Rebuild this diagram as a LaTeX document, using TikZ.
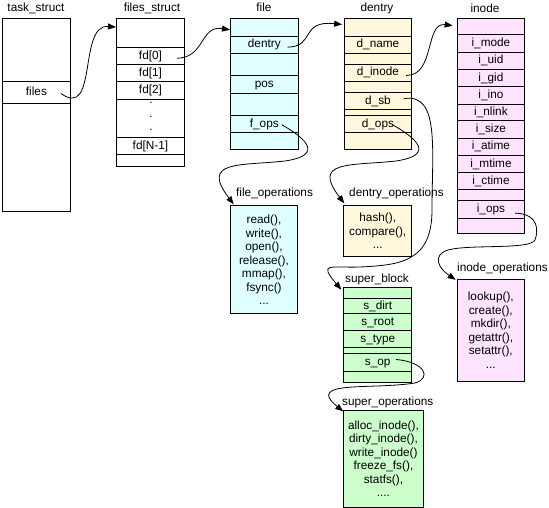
\documentclass[tikz,border=0pt]{standalone}
\usepackage{fontspec}
\setmainfont{Liberation Sans}
\usetikzlibrary{arrows.meta}
\definecolor{fcyan}{RGB}{224,255,255}
\definecolor{dyellow}{RGB}{255,248,220}
\definecolor{ipink}{RGB}{255,228,255}
\definecolor{sgreen}{RGB}{204,255,204}
\tikzset{
  rowcell/.style 2 args={draw, line width=0.9pt, inner sep=0pt, anchor=north west,
    minimum width=#1, minimum height=#2, text height=8.6pt, text depth=2.5pt},
  opsbox/.style 2 args={draw, line width=0.9pt, inner sep=0pt, anchor=north west,
    minimum width=#1, minimum height=#2, align=center},
  title/.style={anchor=base, inner sep=0pt},
  ltitle/.style={anchor=base west, inner sep=0pt},
  dotsnode/.style={anchor=north, inner sep=0pt, align=center},
  conn/.style={-{Triangle[length=8pt,width=6pt]}, line width=0.8pt},
}
\begin{document}
\begin{tikzpicture}[x=1pt,y=-1pt,font=\fontsize{11.8pt}{13.5pt}\selectfont]
\useasboundingbox (0,0) rectangle (549,508);

% ---------- titles ----------
\node[title] (tsT) at (36,12) {task\_struct};
\node[title] (fsT) at (152,12) {files\_struct};
\node[title] (fT) at (264,12) {file};
\node[title] (dT) at (377,12) {dentry};
\node[title] (iT) at (485,12.5) {inode};
\node[ltitle] (foT) at (236,196.5) {file\_operations};
\node[ltitle] (doT) at (349,196.5) {dentry\_operations};
\node[title] (sbT) at (377,282) {super\_block};
\node[ltitle] (ioT) at (457,271) {inode\_operations};
\node[ltitle] (soT) at (342,405) {super\_operations};

% ---------- task_struct ----------
\begin{scope}[every node/.append style={fill=white}]
\node[rowcell={68pt}{63pt}] (ts1) at (2,18) {};
\node[rowcell={68pt}{22pt}] (tsfiles) at (2,81) {files};
\node[rowcell={68pt}{108pt}] (ts2) at (2,103) {};
\end{scope}

% ---------- files_struct ----------
\begin{scope}[every node/.append style={fill=white}]
\node[rowcell={68pt}{29.3pt}] (fs0) at (116,18) {};
\node[rowcell={68pt}{17pt}] (fd0) at (116,47.3) {fd[0]};
\node[rowcell={68pt}{17pt}] (fd1) at (116,64.3) {fd[1]};
\node[rowcell={68pt}{17.4pt}] (fd2) at (116,81.3) {fd[2]};
\node[rowcell={68pt}{38.3pt}] (fsdots) at (116,98.7) {};
\node[rowcell={68pt}{17.3pt}] (fdN) at (116,137) {fd[N-1]};
\node[rowcell={68pt}{11.7pt}] (fs5) at (116,154.3) {};
\end{scope}
\node[dotsnode] (dots) at (151,102.2) {.\\.\\.};

% ---------- file ----------
\begin{scope}[every node/.append style={fill=fcyan}]
\node[rowcell={67.7pt}{17.7pt}] (f0) at (230,18) {};
\node[rowcell={67.7pt}{17pt}] (fdentry) at (230,35.7) {dentry};
\node[rowcell={67.7pt}{22.6pt}] (f1) at (230,52.7) {};
\node[rowcell={67.7pt}{17.4pt}] (fpos) at (230,75.3) {pos};
\node[rowcell={67.7pt}{22.6pt}] (f2) at (230,92.7) {};
\node[rowcell={67.7pt}{17pt}] (fops) at (230,115.3) {f\_ops};
\node[rowcell={67.7pt}{17pt}] (f3) at (230,132.3) {};
\node[opsbox={67.6pt}{108pt}] (fileops) at (229.7,205.3)
  {read(),\\write(),\\open(),\\release(),\\mmap(),\\fsync()\\...};
\end{scope}

% ---------- dentry ----------
\begin{scope}[every node/.append style={fill=dyellow}]
\node[rowcell={67.6pt}{17.7pt}] (d0) at (343.7,18) {};
\node[rowcell={67.6pt}{17pt}] (dname) at (343.7,35.7) {d\_name};
\node[rowcell={67.6pt}{11.3pt}] (d1) at (343.7,52.7) {};
\node[rowcell={67.6pt}{17pt}] (dinode) at (343.7,64) {d\_inode};
\node[rowcell={67.6pt}{11.3pt}] (d2) at (343.7,81) {};
\node[rowcell={67.6pt}{17pt}] (dsb) at (343.7,92.3) {d\_sb};
\node[rowcell={67.6pt}{5.7pt}] (d3) at (343.7,109.3) {};
\node[rowcell={67.6pt}{17.3pt}] (dops) at (343.7,115) {d\_ops};
\node[rowcell={67.6pt}{16.7pt}] (d4) at (343.7,132.3) {};
\node[opsbox={68pt}{50.7pt}] (dentryops) at (343.3,205.3)
  {hash(),\\compare(),\\...};
\end{scope}

% ---------- inode ----------
\begin{scope}[every node/.append style={fill=ipink}]
\node[rowcell={67.6pt}{16.3pt}] (i0) at (456.7,18) {};
\node[rowcell={67.6pt}{17.4pt}] (imode) at (456.7,34.3) {i\_mode};
\node[rowcell={67.6pt}{17.3pt}] (iuid) at (456.7,51.7) {i\_uid};
\node[rowcell={67.6pt}{17.3pt}] (igid) at (456.7,69) {i\_gid};
\node[rowcell={67.6pt}{17.4pt}] (iino) at (456.7,86.3) {i\_ino};
\node[rowcell={67.6pt}{16.6pt}] (inlink) at (456.7,103.7) {i\_nlink};
\node[rowcell={67.6pt}{17.4pt}] (isize) at (456.7,120.3) {i\_size};
\node[rowcell={67.6pt}{17.3pt}] (iatime) at (456.7,137.7) {i\_atime};
\node[rowcell={67.6pt}{17.3pt}] (imtime) at (456.7,155) {i\_mtime};
\node[rowcell={67.6pt}{16.7pt}] (ictime) at (456.7,172.3) {i\_ctime};
\node[rowcell={67.6pt}{11pt}] (i1) at (456.7,189) {};
\node[rowcell={67.6pt}{17.7pt}] (iops) at (456.7,200) {i\_ops};
\node[rowcell={67.6pt}{15.6pt}] (i2) at (456.7,217.7) {};
\node[opsbox={67.3pt}{101.4pt}] (inodeops) at (456.7,279.3)
  {lookup(),\\create(),\\mkdir(),\\getattr(),\\setattr(),\\...};
\end{scope}

% ---------- super_block ----------
\begin{scope}[every node/.append style={fill=sgreen}]
\node[rowcell={68pt}{11.6pt}] (sb0) at (343.3,286.7) {};
\node[rowcell={68pt}{15pt}] (sdirt) at (343.3,298.3) {s\_dirt};
\node[rowcell={68pt}{16.7pt}] (sroot) at (343.3,313.3) {s\_root};
\node[rowcell={68pt}{17.3pt}] (stype) at (343.3,330) {s\_type};
\node[rowcell={68pt}{5.4pt}] (sb1) at (343.3,347.3) {};
\node[rowcell={68pt}{18pt}] (sop) at (343.3,352.7) {s\_op};
\node[rowcell={68pt}{5.3pt}] (sb2) at (343.3,370.7) {};
\node[opsbox={79.4pt}{96.5pt}] (superops) at (343.3,410)
  {alloc\_inode(),\\dirty\_inode(),\\write\_inode()\\freeze\_fs(),\\statfs(),\\....};
\end{scope}

% ---------- connectors ----------
\draw[conn] ([xshift=-10pt,yshift=-1pt]tsfiles.east)
  .. controls (98,120) and (78,24) .. ([yshift=6pt]fs0.west);
\draw[conn] ([xshift=-8pt,yshift=-2pt]fd0.east)
  .. controls (205,58) and (200,25) .. ([yshift=-2.5pt]f0.west);
\draw[conn] ([xshift=-11pt,yshift=-2.5pt]fdentry.east)
  .. controls (315,47) and (300,20) .. ([xshift=-1.5pt,yshift=2.8pt]d0.west);
\draw[conn] ([xshift=-6pt,yshift=-2.5pt]dinode.east)
  .. controls (435,76) and (425,22) .. ([xshift=-4pt,yshift=1pt]i0.west);
\draw[conn] ([xshift=-8.5pt,yshift=2.5pt]dsb.east)
  .. controls (440,92) and (432,150) .. (432,210)
  .. controls (432,262) and (400,265) .. (360,267)
  .. controls (330,268) and (318,262) .. ([xshift=-2pt,yshift=-3pt]sb0.north west);
\draw[conn] ([xshift=-16.7pt,yshift=-0.5pt]fops.east)
  .. controls (305,138) and (325,155) .. (285,161)
  .. controls (240,166) and (200,160) .. ([xshift=4pt,yshift=1pt]fileops.north west);
\draw[conn] ([xshift=-19.6pt,yshift=-0.7pt]dops.east)
  .. controls (416,138) and (436,155) .. (396,161)
  .. controls (351,166) and (311,160) .. ([xshift=1pt,yshift=2pt]dentryops.north west);
\draw[conn] ([xshift=-10pt,yshift=-3.8pt]iops.east)
  .. controls (540,214) and (538,232) .. (535,240)
  .. controls (530,250) and (470,244) .. (448,250)
  .. controls (432,255) and (438,268) .. ([xshift=-1pt,yshift=-0.5pt]inodeops.north west);
\draw[conn] ([xshift=-16.3pt,yshift=2.7pt]sop.east)
  .. controls (425,362) and (432,378) .. (415,383)
  .. controls (370,390) and (305,380) .. ([yshift=-1.5pt]superops.north west);
\end{tikzpicture}
\end{document}
